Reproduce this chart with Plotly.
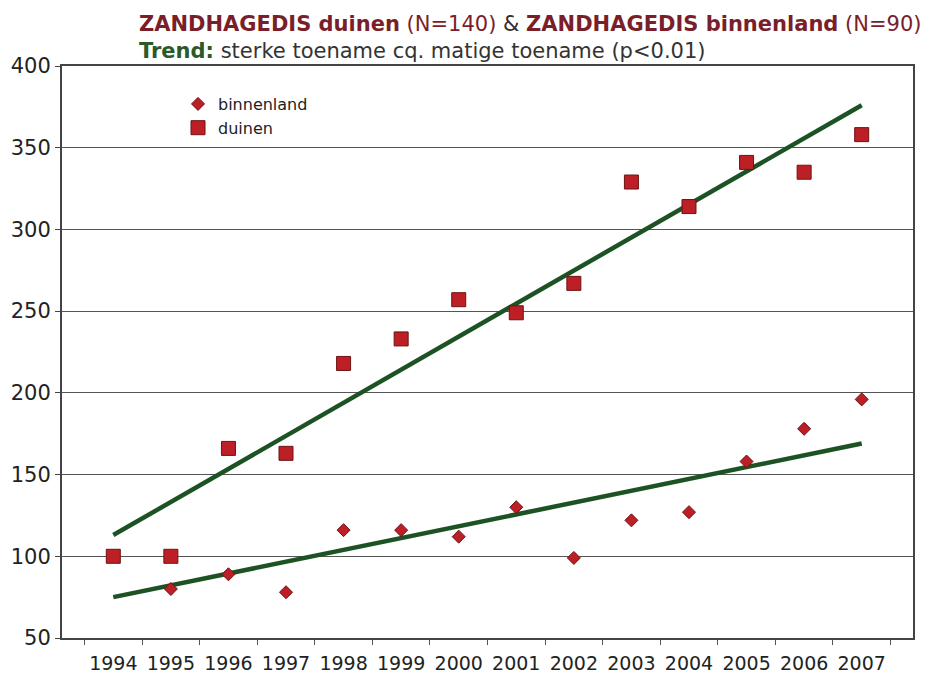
import plotly.graph_objects as go

years = ["1994", "1995", "1996", "1997", "1998", "1999", "2000",
         "2001", "2002", "2003", "2004", "2005", "2006", "2007"]
duinen = [100, 100, 166, 163, 218, 233, 257, 249, 267, 329, 314, 341, 335, 358]
binnenland = [100, 80, 89, 78, 116, 116, 112, 130, 99, 122, 127, 158, 178, 196]
trend_years = ["1994", "2007"]
trend_duinen = [113, 376]
trend_binnenland = [75, 169]
y_ticks = [50, 100, 150, 200, 250, 300, 350, 400]

FONT = "DejaVu Sans"
fill = "#bc1f26"
edge = "#6e1212"
green = "#1d5224"

# page body has an 8px margin; plot area target (screen): x 62..913, y 66..638
L, T, R, B = 54, 58, 28, 45
PW = 933 - L - R
PH = 675 - T - B

fig = go.Figure()
fig.add_trace(go.Scatter(x=trend_years, y=trend_duinen, mode="lines",
                         line=dict(color=green, width=4.5), showlegend=False))
fig.add_trace(go.Scatter(x=trend_years, y=trend_binnenland, mode="lines",
                         line=dict(color=green, width=4.5), showlegend=False))
fig.add_trace(go.Scatter(x=years, y=binnenland, mode="markers", name="binnenland",
                         marker=dict(symbol="diamond", size=10, color=fill,
                                     line=dict(color=edge, width=1))))
fig.add_trace(go.Scatter(x=years, y=duinen, mode="markers", name="duinen",
                         marker=dict(symbol="square", size=14, color=fill,
                                     line=dict(color=edge, width=1))))

fig.update_layout(
    width=933, height=675,
    margin=dict(l=L, r=R, t=T, b=B),
    paper_bgcolor="white", plot_bgcolor="white",
    font=dict(family=FONT, color="#222222"),
    legend=dict(x=(170 - L) / PW, y=(T + PH - 79) / PH, xanchor="left", yanchor="top",
                bgcolor="rgba(0,0,0,0)", font=dict(size=16, color="#222"),
                tracegroupgap=0, itemwidth=30),
    xaxis=dict(type="category", categoryorder="array", categoryarray=years,
               tickson="boundaries", ticks="outside", ticklen=5, tickcolor="#555",
               showline=True, linecolor="#444", linewidth=2, mirror=True,
               showgrid=False, automargin=False, ticklabelstandoff=7,
               tickfont=dict(size=19, color="#222")),
    yaxis=dict(range=[50, 400], tickvals=y_ticks, showgrid=True,
               gridcolor="#555", gridwidth=1, ticks="outside", ticklen=5,
               tickcolor="#444", showline=True, linecolor="#444", linewidth=2,
               mirror=True, zeroline=False, automargin=False,
               tickfont=dict(size=21, color="#222")),
    annotations=[
        dict(xref="paper", yref="paper", x=(129 - L) / PW, y=1.0,
             yshift=42, xanchor="left", yanchor="middle", showarrow=False,
             font=dict(size=21, color="#7a1e2a"),
             text="<b>ZANDHAGEDIS duinen</b> (N=140) <span style='color:#3a2a2a'>&</span> "
                  "<b>ZANDHAGEDIS binnenland</b> (N=90)"),
        dict(xref="paper", yref="paper", x=(129 - L) / PW, y=1.0,
             yshift=15, xanchor="left", yanchor="middle", showarrow=False,
             font=dict(size=21, color="#333333"),
             text="<b><span style='color:#2a5a2a'>Trend:</span></b> sterke toename cq. matige toename (p<0.01)"),
    ],
)

fig.write_html("out.html")
